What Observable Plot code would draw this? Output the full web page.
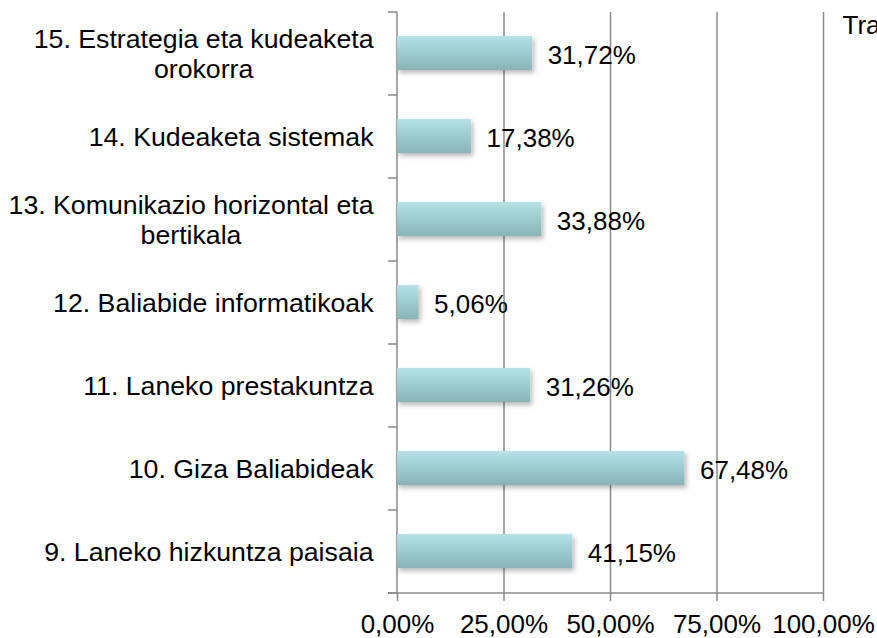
<!DOCTYPE html>
<html><head><meta charset="utf-8">
<script src="https://cdn.jsdelivr.net/npm/d3@7"></script>
<script src="https://cdn.jsdelivr.net/npm/@observablehq/plot@0.6"></script>
<style>
body{margin:0;background:#fff;}
#chart{width:877px;height:638px;overflow:hidden;}
</style>
</head><body><div id="chart"></div>
<script>
const categories = [
  "15. Estrategia eta kudeaketa\norokorra",
  "14. Kudeaketa sistemak",
  "13. Komunikazio horizontal eta\nbertikala",
  "12. Baliabide informatikoak",
  "11. Laneko prestakuntza",
  "10. Giza Baliabideak",
  "9. Laneko hizkuntza paisaia"
];
const values = [31.72, 17.38, 33.88, 5.06, 31.26, 67.48, 41.15];
const xTicks = [0, 25, 50, 75, 100];
const legendText = "Tra";

const data = categories.map((c, i) => ({category: c, value: values[i]}));
const fmt = v => v.toFixed(2).replace(".", ",") + "%";
const FONT = "'Liberation Sans', Arial, sans-serif";
const FS = 26;
const CFS = 26.7;

const ctx = document.createElement("canvas").getContext("2d");
ctx.font = `${CFS}px 'Liberation Sans'`;
const blockWidth = c => Math.max(...c.split("\n").map(l => ctx.measureText(l).width));

const defs = () => {
  const d = d3.create("svg:defs");
  const g = d.append("linearGradient").attr("id", "barGrad")
    .attr("x1", 0).attr("y1", 0).attr("x2", 0).attr("y2", 1);
  g.append("stop").attr("offset", "0%").attr("stop-color", "#b4e2e6");
  g.append("stop").attr("offset", "100%").attr("stop-color", "#88b4b7");
  const f = d.append("filter").attr("id", "shadow")
    .attr("x", "-10%").attr("y", "-30%").attr("width", "130%").attr("height", "180%");
  f.append("feDropShadow").attr("dx", 2).attr("dy", 3).attr("stdDeviation", 2.5)
    .attr("flood-color", "#000").attr("flood-opacity", 0.28);
  return d.node();
};

const axisLines = (index, scales, vals, dims) => {
  const g = d3.create("svg:g").attr("stroke", "#8a8a8a").attr("stroke-width", 1.5);
  const top = dims.marginTop, bottom = dims.height - dims.marginBottom;
  const left = dims.marginLeft, right = dims.width - dims.marginRight;
  const n = categories.length;
  g.append("line").attr("x1", left).attr("x2", left).attr("y1", top).attr("y2", bottom);
  g.append("line").attr("x1", left - 9).attr("x2", right).attr("y1", bottom).attr("y2", bottom);
  for (let i = 0; i <= n; i++) {
    const y = top + (bottom - top) * i / n;
    g.append("line").attr("x1", left - 9).attr("x2", left).attr("y1", y).attr("y2", y);
  }
  return g.node();
};

const plot = Plot.plot({
  width: 877,
  height: 638,
  marginLeft: 397,
  marginRight: 54,
  marginTop: 12,
  marginBottom: 45,
  style: {fontFamily: FONT, fontSize: FS + "px", color: "#000", background: "#fff", overflow: "visible"},
  x: {domain: [0, 100], axis: null},
  y: {domain: categories, paddingInner: 0.59, paddingOuter: 0.295, axis: null},
  marks: [
    defs,
    Plot.ruleX(xTicks.slice(1), {stroke: "#8a8a8a", strokeWidth: 1.5}),
    axisLines,
    Plot.barX(data, {x: "value", y: "category", fill: "url(#barGrad)"}),
    Plot.text(data, {x: "value", y: "category", text: d => fmt(d.value), textAnchor: "start",
      dx: 15, dy: 2, fontSize: FS, fill: "#000"}),
    ...categories.map(c => Plot.text(data.filter(d => d.category === c), {
      y: "category", text: "category", frameAnchor: "left", textAnchor: "middle",
      lineAnchor: "middle", lineHeight: 1.13, fontSize: CFS, fill: "#000",
      dx: -(24 + blockWidth(c) / 2)
    })),
    Plot.axisX(xTicks, {tickFormat: fmt, tickSize: 8, tickPadding: 13, fontSize: FS,
      stroke: "#8a8a8a", strokeWidth: 1.5, fill: "#000", label: null}),
    Plot.text([legendText], {text: d => d, frameAnchor: "top-right", textAnchor: "start",
      lineAnchor: "top", dx: 19, dy: 3, fontSize: FS, fill: "#000"})
  ]
});
d3.select(plot).selectAll("g").filter(function() { return this.getAttribute("fill") === "url(#barGrad)"; })
  .attr("filter", "url(#shadow)");
document.getElementById("chart").appendChild(plot);
</script>
</body></html>
